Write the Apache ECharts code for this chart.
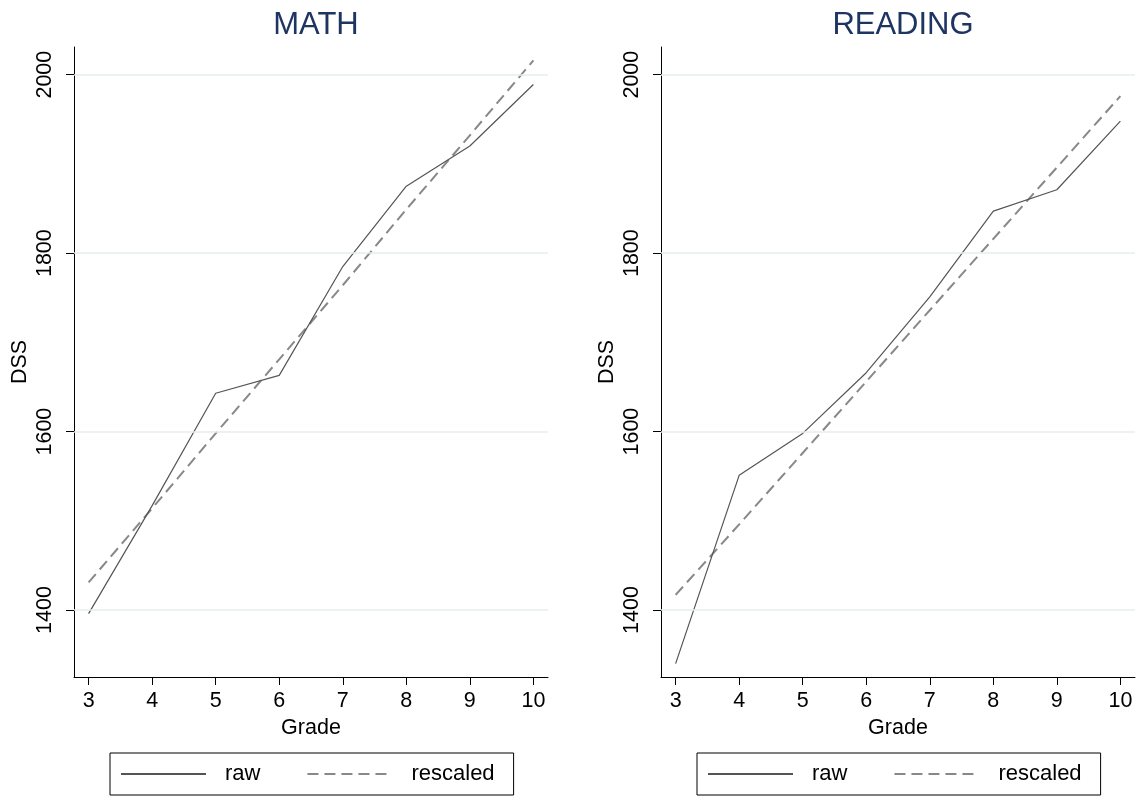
<!DOCTYPE html>
<html>
<head>
<meta charset="utf-8">
<script src="https://cdn.jsdelivr.net/npm/echarts@6/dist/echarts.min.js"></script>
<style>
html,body{margin:0;padding:0;background:#fff;}
#chart{width:1141px;height:796px;}
</style>
</head>
<body>
<div id="chart"></div>
<script>
const grades = [3, 4, 5, 6, 7, 8, 9, 10];
const mathRaw = [1396, 1517, 1643, 1663, 1785, 1875, 1920, 1989];
const mathRescaled = [1431, 1514, 1598, 1681, 1764, 1849, 1932, 2016];
const readRaw = [1340, 1551, 1598, 1666, 1751, 1847, 1871, 1948];
const readRescaled = [1417, 1496, 1576, 1656, 1736, 1816, 1896, 1976];
const yTicks = [1400, 1600, 1800, 2000];
const panelTitles = ['MATH', 'READING'];
const seriesNames = ['raw', 'rescaled'];

const FONT = 'Liberation Sans, Arial, sans-serif';
const chart = echarts.init(document.getElementById('chart'), null, {renderer: 'canvas'});

const grids = [
  {left: 74, top: 47, width: 474, height: 630},
  {left: 661, top: 47, width: 474, height: 630}
];

function pairs(xs, ys) { return xs.map((x, i) => [x, ys[i]]); }

function xAxis(i) {
  return {
    type: 'value', gridIndex: i, min: 2.77, max: 10.23,
    name: 'Grade', nameLocation: 'middle', nameGap: 40,
    nameTextStyle: {fontFamily: FONT, fontSize: 21.5, color: '#000'},
    axisLine: {show: true, onZero: false, lineStyle: {color: '#000', width: 1}},
    axisTick: {show: true, length: 8, customValues: grades, lineStyle: {color: '#000'}},
    axisLabel: {customValues: grades, margin: 13, fontFamily: FONT, fontSize: 21.5, color: '#000',
                formatter: v => String(v)},
    splitLine: {show: false}
  };
}
function yAxis(i) {
  return {
    type: 'value', gridIndex: i, min: 1325, max: 2031,
    name: 'DSS', nameLocation: 'middle', nameGap: 43, nameRotate: 90,
    nameTextStyle: {fontFamily: FONT, fontSize: 21.5, color: '#000'},
    axisLine: {show: true, lineStyle: {color: '#000', width: 1}},
    axisTick: {show: true, length: 8, customValues: yTicks, lineStyle: {color: '#000'}},
    axisLabel: {customValues: yTicks, rotate: 90, margin: 18, fontFamily: FONT, fontSize: 21.5, color: '#000',
                formatter: v => String(v)},
    splitLine: {show: false}
  };
}

function panelSeries(i, raw, resc) {
  return [
    {
      name: 'gridlines', type: 'line', xAxisIndex: i, yAxisIndex: i, data: [], z: 1,
      markLine: {
        silent: true, symbol: ['none', 'none'], animation: false,
        label: {show: false},
        lineStyle: {color: '#e4eef1', width: 1.5, type: 'solid'},
        data: yTicks.map(v => ({yAxis: v}))
      }
    },
    {
      name: seriesNames[0], type: 'line', xAxisIndex: i, yAxisIndex: i,
      data: pairs(grades, raw), symbol: 'none', z: 3,
      lineStyle: {color: '#555555', width: 1.2, type: 'solid'},
      itemStyle: {color: '#555555'}
    },
    {
      name: seriesNames[1], type: 'line', xAxisIndex: i, yAxisIndex: i,
      data: pairs(grades, resc), symbol: 'none', z: 2,
      lineStyle: {color: '#888888', width: 2, type: [11, 6]},
      itemStyle: {color: '#888888'}
    }
  ];
}

function legend(left) {
  return {
    left: left, top: 753, orient: 'horizontal',
    data: seriesNames,
    itemWidth: 85, itemHeight: 14, itemGap: 46,
    padding: [10, 19, 10, 10],
    borderColor: '#000', borderWidth: 1, borderRadius: 0,
    itemStyle: {color: 'transparent', borderColor: 'transparent', borderWidth: 0, opacity: 0},
    textStyle: {fontFamily: FONT, fontSize: 22, color: '#000', padding: [0, 0, 0, 14]},
    selectedMode: false
  };
}

const option = {
  animation: false,
  backgroundColor: '#fff',
  title: [
    {text: panelTitles[0], left: 311, top: 5, textAlign: 'center',
     textStyle: {fontFamily: FONT, fontSize: 31, fontWeight: 'normal', color: '#1e3461'}},
    {text: panelTitles[1], left: 898, top: 5, textAlign: 'center',
     textStyle: {fontFamily: FONT, fontSize: 31, fontWeight: 'normal', color: '#1e3461'}}
  ],
  grid: grids,
  xAxis: [xAxis(0), xAxis(1)],
  yAxis: [yAxis(0), yAxis(1)],
  legend: [legend(110), legend(697)],
  series: [...panelSeries(0, mathRaw, mathRescaled), ...panelSeries(1, readRaw, readRescaled)]
};
chart.setOption(option);
</script>
</body>
</html>
